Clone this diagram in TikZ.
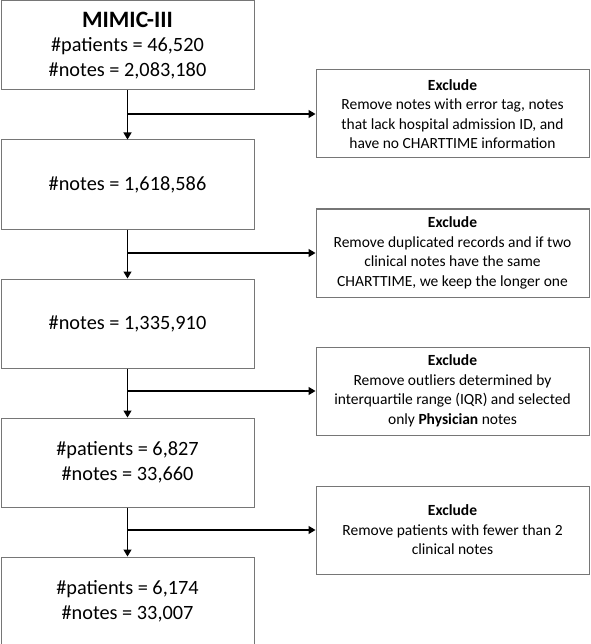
\documentclass[tikz,border=0pt]{standalone}
\usepackage{fontspec}
\setmainfont{Carlito}
\usetikzlibrary{arrows.meta}
\definecolor{boxgray}{RGB}{118,118,118}
\begin{document}
\begin{tikzpicture}[x=1pt,y=-1pt,
  mainbox/.style={draw=boxgray,line width=1pt,minimum width=253pt,minimum height=89pt,
    inner sep=0pt,align=center,anchor=north west,font=\fontsize{20.3}{24.5}\selectfont},
  exbox/.style={draw=boxgray,line width=1pt,minimum width=273pt,minimum height=88pt,
    inner sep=0pt,align=center,anchor=north west,font=\fontsize{15.5}{19.5}\selectfont},
  arr/.style={draw=black,line width=1.2pt,-{Triangle[length=7pt,width=8pt]}}]
\useasboundingbox[fill=white] (0,0) rectangle (590,644);
\node[mainbox] (b1) at (0.5,0.5) {{\fontsize{23.5}{27}\selectfont\bfseries MIMIC-III}\\\#patients = 46,520\\\#notes = 2,083,180};
\node[mainbox] (b2) at (0.5,139.5) {\#notes = 1,618,586};
\node[mainbox] (b3) at (0.5,278.5) {\#notes = 1,335,910};
\node[mainbox] (b4) at (0.5,417.5) {\#patients = 6,827\\\#notes = 33,660};
\node[mainbox] (b5) at (0.5,556.5) {\#patients = 6,174\\\#notes = 33,007};
\node[exbox] (e1) at (315.5,69.5) {\textbf{Exclude}\\Remove notes with error tag, notes\\that lack hospital admission ID, and\\have no CHARTTIME information};
\node[exbox] (e2) at (315.5,208.5) {\textbf{Exclude}\\Remove duplicated records and if two\\clinical notes have the same\\CHARTTIME, we keep the longer one};
\node[exbox] (e3) at (315.5,346.5) {\textbf{Exclude}\\Remove outliers determined by\\interquartile range (IQR) and selected\\only \textbf{Physician} notes};
\node[exbox] (e4) at (315.5,485.5) {\textbf{Exclude}\\Remove patients with fewer than 2\\clinical notes};
\foreach \a/\b/\e in {b1/b2/e1,b2/b3/e2,b3/b4/e3,b4/b5/e4}{
  \draw[arr] (\a.south) -- (\b.north);
  \draw[arr] (\a.south |- \e.west) -- (\e.west);
}
\end{tikzpicture}
\end{document}
